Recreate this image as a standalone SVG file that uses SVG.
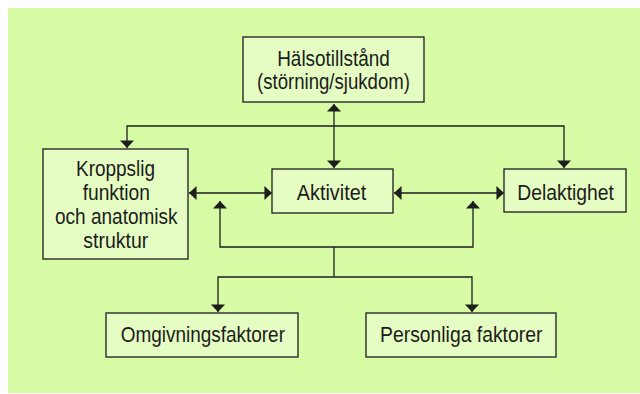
<svg xmlns="http://www.w3.org/2000/svg" width="640" height="394" viewBox="0 0 640 394">
<defs>
<marker id="ah" markerUnits="userSpaceOnUse" markerWidth="8" markerHeight="14" viewBox="0 0 7 13" refX="7" refY="6.5" orient="auto-start-reverse">
<path d="M0,0 L7,6.5 L0,13 z" fill="#1e1e1e"/>
</marker>
<style>
.box{fill:#e5fdc3;stroke:#2a2a2a;stroke-width:1.4}
.t{font-family:"Liberation Sans",Arial,sans-serif;font-size:21.5px;fill:#1c1c1c;text-anchor:middle}
.c{fill:none;stroke:#1e1e1e;stroke-width:1.3}
</style>
</defs>
<rect x="8" y="8" width="632" height="385" fill="#d8fca5"/>
<g id="connectors">
<line class="c" x1="334" y1="104" x2="334" y2="168" marker-start="url(#ah)" marker-end="url(#ah)"/>
<polyline class="c" points="127,148 127,126 564,126 564,168" marker-start="url(#ah)" marker-end="url(#ah)"/>
<line class="c" x1="189" y1="193" x2="272" y2="193" marker-start="url(#ah)" marker-end="url(#ah)"/>
<line class="c" x1="394" y1="193" x2="504" y2="193" marker-start="url(#ah)" marker-end="url(#ah)"/>
<polyline class="c" points="220,201 220,247 473,247 473,201" marker-start="url(#ah)" marker-end="url(#ah)"/>
<line class="c" x1="334" y1="247" x2="334" y2="277"/>
<polyline class="c" points="218,312 218,277 472,277 472,312" marker-start="url(#ah)" marker-end="url(#ah)"/>
</g>
<g id="halsotillstand">
<rect class="box" x="243" y="37" width="181" height="65"/>
<text class="t" x="333.5" y="66" textLength="112.6" lengthAdjust="spacingAndGlyphs">Hälsotillstånd</text>
<text class="t" x="333.5" y="89" textLength="153" lengthAdjust="spacingAndGlyphs">(störning/sjukdom)</text>
</g>
<g id="kroppslig">
<rect class="box" x="43" y="149" width="145" height="110"/>
<text class="t" x="115.5" y="176" textLength="79" lengthAdjust="spacingAndGlyphs">Kroppslig</text>
<text class="t" x="116.3" y="200" textLength="67.3" lengthAdjust="spacingAndGlyphs">funktion</text>
<text class="t" x="116.3" y="223.5" textLength="122.7" lengthAdjust="spacingAndGlyphs">och anatomisk</text>
<text class="t" x="115.8" y="247.5" textLength="65" lengthAdjust="spacingAndGlyphs">struktur</text>
</g>
<g id="aktivitet">
<rect class="box" x="272" y="169" width="121" height="44"/>
<text class="t" x="331.5" y="200" textLength="69.3" lengthAdjust="spacingAndGlyphs">Aktivitet</text>
</g>
<g id="delaktighet">
<rect class="box" x="504" y="169" width="122" height="43"/>
<text class="t" x="565.6" y="199.5" textLength="96.7" lengthAdjust="spacingAndGlyphs">Delaktighet</text>
</g>
<g id="omgivningsfaktorer">
<rect class="box" x="106" y="313" width="192" height="44"/>
<text class="t" x="202.8" y="341.7" textLength="164.3" lengthAdjust="spacingAndGlyphs">Omgivningsfaktorer</text>
</g>
<g id="personliga">
<rect class="box" x="366" y="313" width="190" height="44"/>
<text class="t" x="461.2" y="341.7" textLength="162.3" lengthAdjust="spacingAndGlyphs">Personliga faktorer</text>
</g>
</svg>
